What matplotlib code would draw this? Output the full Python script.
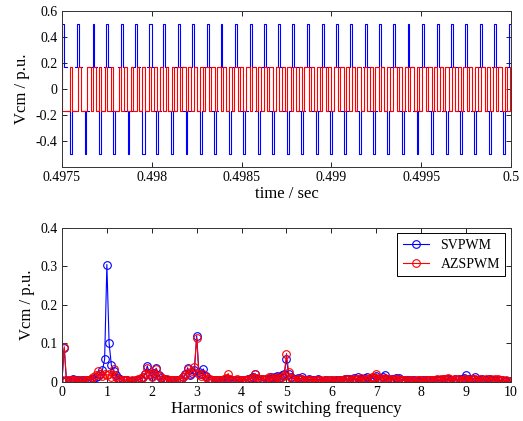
import matplotlib
matplotlib.use('Agg')
import matplotlib.pyplot as plt
from matplotlib.legend_handler import HandlerLine2D
import numpy as np

plt.rcParams['font.family'] = 'Liberation Serif'
plt.rcParams['axes.unicode_minus'] = False

# ---- top plot data: common-mode voltage, times in microseconds after t0 ----
t0 = 0.4975
t_span = 2500.

# SVPWM (blue): +0.5 pulses, -0.5 pulses and the +-1/6 change in between
blue_up_t = [7, 91, 174, 252, 334, 412, 492, 570, 651, 731, 811, 889, 969, 1051, 1130, 1210,
             1288, 1370, 1452, 1530, 1609, 1691, 1771, 1850, 1930, 2012, 2092, 2172, 2251, 2331, 2411, 2494]
blue_up_w = [10, 12, 8, 9, 11, 10, 13, 11, 9, 12, 10, 9, 12, 10, 11, 9,
             10, 12, 11, 9, 10, 12, 9, 11, 10, 12, 9, 11, 10, 12, 9, 10]
blue_dn_t = [50, 132, 212, 291, 371, 453, 531, 612, 694, 774, 854, 935, 1015, 1097, 1177, 1257,
             1338, 1418, 1498, 1577, 1659, 1737, 1817, 1900, 1980, 2060, 2142, 2222, 2301, 2383, 2463]
blue_dn_w = [11, 9, 12, 10, 9, 13, 10, 11, 9, 12, 10, 11, 9, 12, 10, 9,
             11, 12, 10, 9, 11, 10, 12, 9, 10, 11, 12, 9, 10, 11, 12]
blue_mid_t = [28, 70, 111, 153, 193, 232, 271, 312, 352, 391, 432, 472, 511, 550, 591, 631,
              672, 712, 752, 792, 832, 871, 912, 952, 992, 1033, 1074, 1113, 1153, 1193, 1233, 1272,
              1313, 1354, 1394, 1435, 1475, 1514, 1553, 1593, 1634, 1675, 1714, 1754, 1794, 1833, 1875, 1915,
              1955, 1996, 2036, 2076, 2117, 2157, 2197, 2236, 2276, 2316, 2357, 2397, 2437, 2478]

# AZSPWM (red): toggles between +1/6 and -1/6
red_edges = [2, 45, 57, 91, 104, 138, 161, 173, 188, 208, 219, 239, 251, 273, 286, 316,
             327, 347, 360, 383, 394, 416, 430, 447, 460, 486, 496, 512, 527, 546, 564, 579,
             592, 611, 622, 642, 655, 668, 690, 701, 720, 734, 751, 767, 785, 798, 817, 830,
             852, 861, 883, 897, 914, 929, 947, 958, 981, 993, 1010, 1026, 1045, 1057, 1079, 1091,
             1108, 1125, 1143, 1155, 1177, 1189, 1206, 1223, 1241, 1252, 1275, 1288, 1305, 1321, 1339, 1350,
             1373, 1386, 1402, 1419, 1437, 1449, 1471, 1484, 1500, 1517, 1535, 1547, 1569, 1582, 1598, 1615,
             1633, 1645, 1667, 1680, 1696, 1713, 1731, 1743, 1765, 1778, 1794, 1811, 1829, 1841, 1863, 1876,
             1892, 1909, 1927, 1939, 1961, 1974, 1990, 2007, 2025, 2037, 2059, 2072, 2088, 2105, 2123, 2135,
             2157, 2170, 2186, 2203, 2221, 2233, 2255, 2268, 2284, 2301, 2319, 2331, 2353, 2366, 2382, 2399,
             2417, 2429, 2451, 2464, 2480, 2497]

top_xticks = [0.4975, 0.498, 0.4985, 0.499, 0.4995, 0.5]
top_xlabels = ['0.4975', '0.498', '0.4985', '0.499', '0.4995', '0.5']
top_yticks = [-0.4, -0.2, 0, 0.2, 0.4, 0.6]
top_ylabels = ['-0.4', '-0.2', '0', '0.2', '0.4', '0.6']

# ---- bottom plot data: spectrum, one value every 0.05 harmonic ----
harm = np.linspace(0, 10, 201)
sv_mag = [0.003, 0.088, 0.004, 0.003, 0.005, 0.008, 0.006, 0.004, 0.003, 0.005,
          0.004, 0.006, 0.005, 0.007, 0.009, 0.012, 0.016, 0.022, 0.030, 0.059,
          0.305, 0.100, 0.044, 0.028, 0.018, 0.010, 0.007, 0.005, 0.004, 0.006,
          0.003, 0.002, 0.003, 0.004, 0.006, 0.008, 0.012, 0.020, 0.042, 0.022,
          0.015, 0.024, 0.036, 0.018, 0.010, 0.007, 0.009, 0.005, 0.004, 0.003,
          0.005, 0.004, 0.006, 0.008, 0.012, 0.020, 0.037, 0.018, 0.024, 0.030,
          0.120, 0.025, 0.020, 0.034, 0.016, 0.008, 0.006, 0.004, 0.005, 0.003,
          0.004, 0.006, 0.005, 0.007, 0.008, 0.005, 0.004, 0.006, 0.003, 0.005,
          0.004, 0.006, 0.005, 0.008, 0.010, 0.012, 0.020, 0.009, 0.006, 0.008,
          0.005, 0.009, 0.007, 0.012, 0.010, 0.014, 0.016, 0.012, 0.018, 0.022,
          0.059, 0.020, 0.012, 0.009, 0.007, 0.010, 0.008, 0.012, 0.006, 0.005,
          0.007, 0.004, 0.006, 0.005, 0.008, 0.004, 0.003, 0.005, 0.004, 0.003,
          0.004, 0.003, 0.005, 0.004, 0.006, 0.005, 0.008, 0.007, 0.009, 0.006,
          0.010, 0.008, 0.014, 0.009, 0.007, 0.010, 0.012, 0.008, 0.009, 0.011,
          0.015, 0.009, 0.008, 0.012, 0.017, 0.008, 0.006, 0.009, 0.007, 0.010,
          0.011, 0.006, 0.005, 0.004, 0.006, 0.003, 0.004, 0.005, 0.003, 0.004,
          0.003, 0.005, 0.004, 0.003, 0.005, 0.004, 0.006, 0.005, 0.004, 0.006,
          0.007, 0.005, 0.008, 0.006, 0.005, 0.007, 0.006, 0.009, 0.008, 0.010,
          0.018, 0.009, 0.007, 0.008, 0.012, 0.006, 0.005, 0.007, 0.006, 0.004,
          0.008, 0.005, 0.006, 0.004, 0.005, 0.003, 0.004, 0.003, 0.002, 0.003,
          0.002]
az_mag = [0.004, 0.092, 0.003, 0.005, 0.004, 0.006, 0.005, 0.003, 0.004, 0.003,
          0.005, 0.004, 0.006, 0.008, 0.012, 0.018, 0.028, 0.020, 0.015, 0.022,
          0.018, 0.020, 0.014, 0.034, 0.012, 0.008, 0.006, 0.005, 0.004, 0.005,
          0.003, 0.004, 0.003, 0.005, 0.007, 0.010, 0.014, 0.022, 0.036, 0.020,
          0.012, 0.022, 0.035, 0.016, 0.012, 0.008, 0.006, 0.007, 0.004, 0.005,
          0.004, 0.006, 0.005, 0.009, 0.012, 0.018, 0.034, 0.022, 0.028, 0.040,
          0.115, 0.022, 0.016, 0.020, 0.012, 0.009, 0.007, 0.005, 0.006, 0.004,
          0.005, 0.004, 0.008, 0.010, 0.022, 0.009, 0.006, 0.005, 0.007, 0.004,
          0.006, 0.005, 0.004, 0.007, 0.009, 0.011, 0.022, 0.010, 0.007, 0.009,
          0.006, 0.008, 0.012, 0.010, 0.009, 0.011, 0.013, 0.010, 0.012, 0.018,
          0.074, 0.025, 0.010, 0.008, 0.006, 0.008, 0.007, 0.009, 0.005, 0.006,
          0.004, 0.005, 0.003, 0.006, 0.004, 0.005, 0.003, 0.004, 0.005, 0.003,
          0.005, 0.004, 0.003, 0.005, 0.004, 0.006, 0.007, 0.005, 0.008, 0.006,
          0.007, 0.009, 0.008, 0.010, 0.006, 0.008, 0.009, 0.011, 0.012, 0.014,
          0.021, 0.010, 0.008, 0.009, 0.011, 0.007, 0.008, 0.006, 0.009, 0.007,
          0.008, 0.005, 0.004, 0.006, 0.003, 0.005, 0.004, 0.003, 0.005, 0.004,
          0.004, 0.003, 0.005, 0.006, 0.004, 0.006, 0.005, 0.007, 0.006, 0.008,
          0.007, 0.009, 0.010, 0.008, 0.006, 0.008, 0.005, 0.007, 0.006, 0.008,
          0.009, 0.006, 0.008, 0.007, 0.009, 0.006, 0.007, 0.005, 0.006, 0.008,
          0.006, 0.007, 0.005, 0.009, 0.008, 0.006, 0.004, 0.003, 0.004, 0.003,
          0.003]
series_names = ['SVPWM', 'AZSPWM']
bot_xticks = list(range(0, 11))
bot_yticks = [0, 0.1, 0.2, 0.3, 0.4]
bot_ylabels = ['0', '0.1', '0.2', '0.3', '0.4']


# build the blue polyline (the +-1/6 swap sits inside the red band, left undrawn)
v6 = 1. / 6.
ev = []
for c, w in zip(blue_up_t, blue_up_w):
    ev.append((c - w / 2., 0.5))
    ev.append((c + w / 2., v6))
for c, w in zip(blue_dn_t, blue_dn_w):
    ev.append((c - w / 2., -0.5))
    ev.append((c + w / 2., -v6))
for i, m in enumerate(blue_mid_t):
    ev.append((m, -v6 if i % 2 == 0 else v6))
ev.sort()

cur = v6
bx = [0.]
by = [cur]
for t, lvl in ev:
    bx.append(t)
    by.append(cur)
    if abs(abs(cur) - v6) < 1e-9 and abs(abs(lvl) - v6) < 1e-9:
        bx.append(np.nan)
        by.append(np.nan)
    bx.append(t)
    by.append(lvl)
    cur = lvl
bx.append(t_span)
by.append(cur)
bx = t0 + np.array(bx) * 1e-6

rt = [0.] + red_edges + [t_span]
rv = [v6]
for e in red_edges:
    rv.append(-rv[-1])
rv.append(rv[-1])
rt = t0 + np.array(rt) * 1e-6


class RightMarker(HandlerLine2D):
    def get_xdata(self, legend, xdescent, ydescent, width, height, fontsize):
        xd = [-xdescent, -xdescent + width]
        return xd, [-xdescent + width]


def style(ax):
    ax.tick_params(direction='in', top=True, right=True, length=3.5, width=0.6,
                   labelsize=10, colors='k', pad=3)
    for s in ax.spines.values():
        s.set_linewidth(0.7)
        s.set_color('#333333')


fig = plt.figure(figsize=(5.23, 4.21), dpi=100)

ax1 = fig.add_axes([0.1185, 0.6033, 0.8585, 0.3705])
ax1.plot(bx, by, color='b', lw=0.8)
ax1.step(rt, rv, where='post', color='r', lw=0.8)
ax1.set_xlim(0.4975, 0.5)
ax1.set_ylim(-0.6, 0.6)
ax1.set_xticks(top_xticks)
ax1.set_xticklabels(top_xlabels)
ax1.set_yticks(top_yticks)
ax1.set_yticklabels(top_ylabels)
ax1.set_xlabel('time / sec', fontsize=12, labelpad=1)
ax1.set_ylabel('Vcm / p.u.', fontsize=12, labelpad=4)
style(ax1)

ax2 = fig.add_axes([0.1185, 0.0926, 0.8585, 0.366])
l1, = ax2.plot(harm, sv_mag, '-o', color='b', lw=0.8, ms=5.5, mfc='none', mew=0.8)
l2, = ax2.plot(harm, az_mag, '-o', color='r', lw=0.8, ms=5.5, mfc='none', mew=0.8)
ax2.set_xlim(0, 10)
ax2.set_ylim(0, 0.4)
ax2.set_xticks(bot_xticks)
ax2.set_yticks(bot_yticks)
ax2.set_yticklabels(bot_ylabels)
ax2.set_xlabel('Harmonics of switching frequency', fontsize=12, labelpad=1)
ax2.set_ylabel('Vcm / p.u.', fontsize=12, labelpad=4)
style(ax2)

leg = ax2.legend([l1, l2], series_names, loc='upper right', fontsize=10,
                 fancybox=False, edgecolor='k', framealpha=1, handlelength=1.9,
                 borderaxespad=0.4, borderpad=0.4, labelspacing=0.4, handletextpad=0.8,
                 handler_map={l1: RightMarker(numpoints=1), l2: RightMarker(numpoints=1)})
leg.get_frame().set_linewidth(0.7)

plt.savefig('out.png', dpi=100)
